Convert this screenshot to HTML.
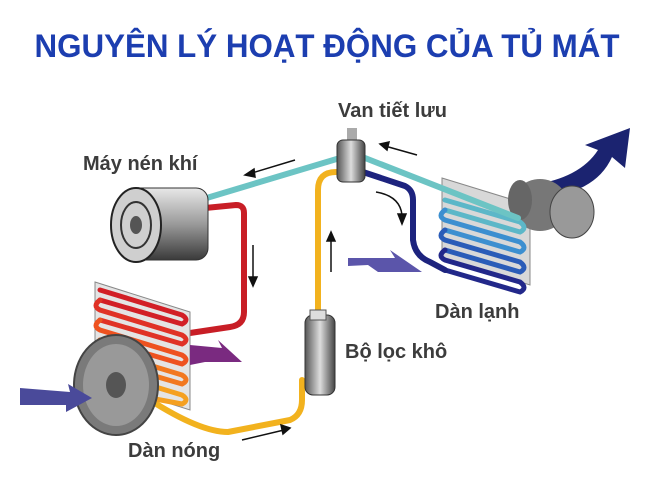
<!DOCTYPE html>
<html><head><meta charset="utf-8"><style>
html,body{margin:0;padding:0;background:#fff;}
svg{display:block}
.lb{font-family:"Liberation Sans",sans-serif;font-weight:bold;fill:#3c3c3c;font-size:20px}
</style></head><body>
<svg width="650" height="479" viewBox="0 0 650 479" xmlns="http://www.w3.org/2000/svg">
<defs>
<linearGradient id="cg" x1="0" y1="0" x2="0" y2="1"><stop offset="0" stop-color="#e8e8e8"/><stop offset=".5" stop-color="#9a9a9a"/><stop offset="1" stop-color="#3a3a3a"/></linearGradient>
<linearGradient id="fg" x1="0" y1="0" x2="1" y2="0"><stop offset="0" stop-color="#555"/><stop offset=".5" stop-color="#ddd"/><stop offset="1" stop-color="#444"/></linearGradient>
</defs>
<text x="327" y="57" text-anchor="middle" textLength="585" lengthAdjust="spacingAndGlyphs" style="font-family:'Liberation Sans',sans-serif;font-weight:bold;font-size:32px;fill:#1c3eb0">NGUYÊN LÝ HOẠT ĐỘNG CỦA TỦ MÁT</text>

<path d="M532,185 Q580,178 598,150 L585,145 L630,128 L625,168 L612,157 Q595,195 535,198 Z" fill="#1b2370"/>

<path d="M442,178 L530,205 L530,285 L442,258 Z" fill="#d8d8d8" stroke="#888"/>
<ellipse cx="540" cy="205" rx="28" ry="26" fill="#777"/>
<ellipse cx="572" cy="212" rx="22" ry="26" fill="#999" stroke="#444"/>
<ellipse cx="520" cy="200" rx="12" ry="20" fill="#666"/>
<g fill="none" stroke-width="5" stroke-linecap="round">
<path d="M445,200 L520,222 Q528,228 520,232 L445,210" stroke="#5cb7c8"/>
<path d="M445,210 Q437,216 445,220 L520,242 Q528,248 520,252 L445,230" stroke="#3c8fd0"/>
<path d="M445,230 Q437,236 445,240 L520,262 Q528,268 520,272 L445,250" stroke="#2a5cb8"/>
<path d="M445,250 Q437,256 445,260 L520,282 Q528,288 520,292 L445,270" stroke="#22288a"/>
</g>

<g fill="none" stroke-width="6" stroke-linecap="round" stroke-linejoin="round">
<path d="M200,200 L340,158" stroke="#6cc4c4"/>
<path d="M365,158 L518,218" stroke="#6cc4c4"/>
<path d="M363,172 L405,186 Q413,190 413,200 L413,240 Q415,256 430,262 L445,270" stroke="#1d237e"/>
<path d="M205,208 L236,205 Q244,205 244,213 L244,312 Q244,325 230,327 L190,333" stroke="#c81e26"/>
<path d="M336,172 Q318,172 318,190 L318,318" stroke="#f2b21e"/>
<path d="M150,400 Q200,432 228,432 L290,420 Q302,415 302,400 L302,380" stroke="#f2b21e"/>
</g>

<rect x="347" y="128" width="10" height="15" fill="#aaa"/>
<rect x="337" y="140" width="28" height="42" rx="6" fill="url(#fg)" stroke="#333"/>

<rect x="128" y="188" width="80" height="72" rx="12" fill="url(#cg)" stroke="#333"/>
<ellipse cx="136" cy="225" rx="25" ry="37" fill="#cfcfcf" stroke="#222" stroke-width="2"/>
<ellipse cx="136" cy="225" rx="15" ry="23" fill="none" stroke="#333" stroke-width="2"/>
<ellipse cx="136" cy="225" rx="6" ry="9" fill="#555"/>

<rect x="305" y="315" width="30" height="80" rx="8" fill="url(#fg)" stroke="#333"/>
<rect x="310" y="310" width="16" height="10" fill="#ddd" stroke="#555"/>

<path d="M95,282 L190,312 L190,410 L95,380 Z" fill="#e4e4e4" stroke="#888"/>
<g fill="none" stroke-width="5" stroke-linecap="round">
<path d="M100,290 L182,315 Q190,320 182,324 L100,300" stroke="#d21f26"/>
<path d="M100,300 Q92,306 100,310 L182,335 Q190,340 182,344 L100,320" stroke="#e03226"/>
<path d="M100,320 Q92,326 100,330 L182,355 Q190,360 182,364 L100,340" stroke="#ee5220"/>
<path d="M100,340 Q92,346 100,350 L182,375 Q190,380 182,384 L100,360" stroke="#f27820"/>
<path d="M100,360 Q92,366 100,370 L182,395 Q190,400 182,404 L150,398" stroke="#f5a020"/>
</g>
<ellipse cx="116" cy="385" rx="42" ry="50" fill="#7a7a7a" stroke="#444" stroke-width="2"/>
<ellipse cx="116" cy="385" rx="33" ry="41" fill="#999"/>
<ellipse cx="116" cy="385" rx="10" ry="13" fill="#555"/>

<path d="M20,388 L70,392 L68,384 L92,398 L66,412 L66,405 L20,405 Z" fill="#4a4a9a"/>
<path d="M348,258 L395,258 L390,250 L422,272 L378,272 L368,265 L348,266 Z" fill="#5b55aa"/>
<path d="M190,345 L222,348 L218,340 L242,362 L205,362 L190,365 Z" fill="#7a2a80"/>

<g stroke="#111" stroke-width="1.5" fill="#111">
<line x1="295" y1="160" x2="252" y2="173"/><path d="M245,175 L254,169 L255,177 Z"/>
<line x1="417" y1="155" x2="385" y2="146"/><path d="M380,144 L389,142 L387,150 Z"/>
<line x1="253" y1="245" x2="253" y2="280"/><path d="M253,286 L249,277 L257,277 Z"/>
<line x1="331" y1="272" x2="331" y2="238"/><path d="M331,232 L327,241 L335,241 Z"/>
<path d="M376,192 Q400,196 402,215" fill="none"/><path d="M402,224 L398,214 L406,214 Z"/>
<line x1="242" y1="440" x2="284" y2="430"/><path d="M290,428 L281,425 L283,434 Z"/>
</g>

<text class="lb" x="338" y="117">Van tiết lưu</text>
<text class="lb" x="83" y="170">Máy nén khí</text>
<text class="lb" x="435" y="318">Dàn lạnh</text>
<text class="lb" x="345" y="358">Bộ lọc khô</text>
<text class="lb" x="128" y="457">Dàn nóng</text>
</svg>
</body></html>
